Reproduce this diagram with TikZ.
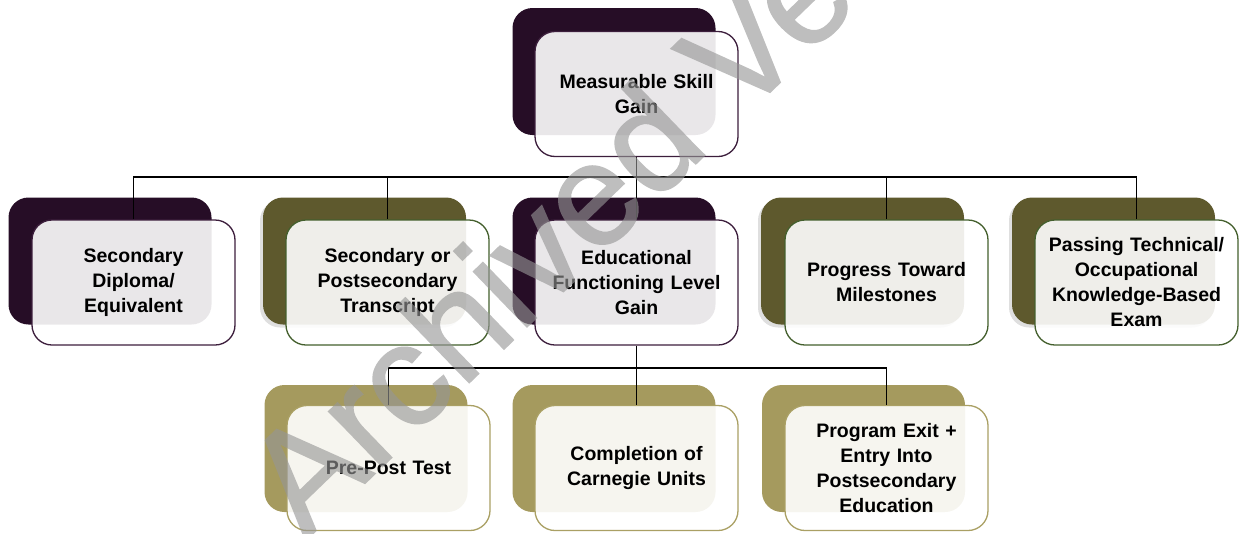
\documentclass[tikz,border=0pt]{standalone}
\usepackage{fontspec}
\setmainfont{Liberation Sans}
\newfontfamily\wmfont[FakeBold=1.2]{Liberation Sans}
\usetikzlibrary{shadows}
\definecolor{purpD}{RGB}{38,13,38}
\definecolor{purpL}{RGB}{60,30,60}
\definecolor{oliveD}{RGB}{94,89,45}
\definecolor{oliveL}{RGB}{68,95,45}
\definecolor{khaki}{RGB}{165,154,94}
\definecolor{khakiL}{RGB}{170,160,100}
\definecolor{wmgray}{RGB}{150,150,150}
\tikzset{
  backbox/.style={rounded corners=20pt, minimum width=203pt, minimum height=127pt, inner sep=0pt, fill=#1},
  shadowbox/.style={backbox=#1, drop shadow={shadow xshift=-3pt, shadow yshift=-3pt, opacity=0.25}},
  frontbox/.style={rounded corners=20pt, minimum width=203pt, minimum height=125pt, inner sep=0pt,
     draw=#1, line width=1.3pt, fill=white, fill opacity=0.9, text opacity=1, align=center,
     text width=195pt, font=\bfseries\fontsize{19.5}{25}\selectfont},
  conn/.style={draw=black, line width=1.4pt},
  watermark/.style={rotate=44, anchor=base west, text=wmgray, font=\wmfont\fontsize{145}{145}\selectfont}
}
\begin{document}
\begin{tikzpicture}[x=1pt,y=-1pt]
\useasboundingbox (0,0) rectangle (1244,533);
% back boxes
\node[backbox=purpD] (tb) at (614,71.5) {};
\node[backbox=purpD] (b1b) at (110,261) {};
\node[shadowbox=oliveD] (b2b) at (364.5,261) {};
\node[backbox=purpD] (b3b) at (614,261) {};
\node[shadowbox=oliveD] (b4b) at (862.5,261) {};
\node[shadowbox=oliveD] (b5b) at (1113.5,261) {};
\node[backbox=khaki] (c1b) at (366,448.5) {};
\node[backbox=khaki] (c2b) at (614,448.5) {};
\node[backbox=khaki] (c3b) at (863.5,448.5) {};
% junctions
\coordinate (j1) at (636.5,177);
\coordinate (j2) at (636.5,368);
% front box positions
\path (636.5,94) coordinate (tpos) (133.5,282.5) coordinate (p1) (387.5,282.5) coordinate (p2)
  (636.5,282.5) coordinate (p3) (886.5,282.5) coordinate (p4) (1136.5,282.5) coordinate (p5)
  (388.5,468) coordinate (q1) (636.5,468) coordinate (q2) (886.5,468) coordinate (q3);
\node[frontbox=purpL] (t) at (tpos) {Measurable Skill\\Gain};
\node[frontbox=purpL] (b1) at (p1) {Secondary\\Diploma/\\Equivalent};
\node[frontbox=oliveL] (b2) at (p2) {Secondary or\\Postsecondary\\Transcript};
\node[frontbox=purpL] (b3) at (p3) {Educational\\Functioning Level\\Gain};
\node[frontbox=oliveL] (b4) at (p4) {Progress Toward\\Milestones};
\node[frontbox=oliveL] (b5) at (p5) {Passing Technical/\\Occupational\\Knowledge-Based\\Exam};
\node[frontbox=khakiL] (c1) at (q1) {Pre-Post Test};
\node[frontbox=khakiL] (c2) at (q2) {Completion of\\Carnegie Units};
\node[frontbox=khakiL] (c3) at (q3) {Program Exit +\\Entry Into\\Postsecondary\\Education};
% connectors
\draw[conn] (t.south) -- (j1);
\draw[conn] (j1) -| (b1.north);
\draw[conn] (j1) -| (b2.north);
\draw[conn] (j1) -- (b3.north);
\draw[conn] (j1) -| (b4.north);
\draw[conn] (j1) -| (b5.north);
\draw[conn] (b3.south) -- (j2);
\draw[conn] (j2) -| (c1.north);
\draw[conn] (j2) -- (c2.north);
\draw[conn] (j2) -| (c3.north);
% watermark
\begin{scope}[transparency group, opacity=0.62]
\node[watermark] (wm) at (303,543) {Archived Version};
\end{scope}
\end{tikzpicture}
\end{document}
